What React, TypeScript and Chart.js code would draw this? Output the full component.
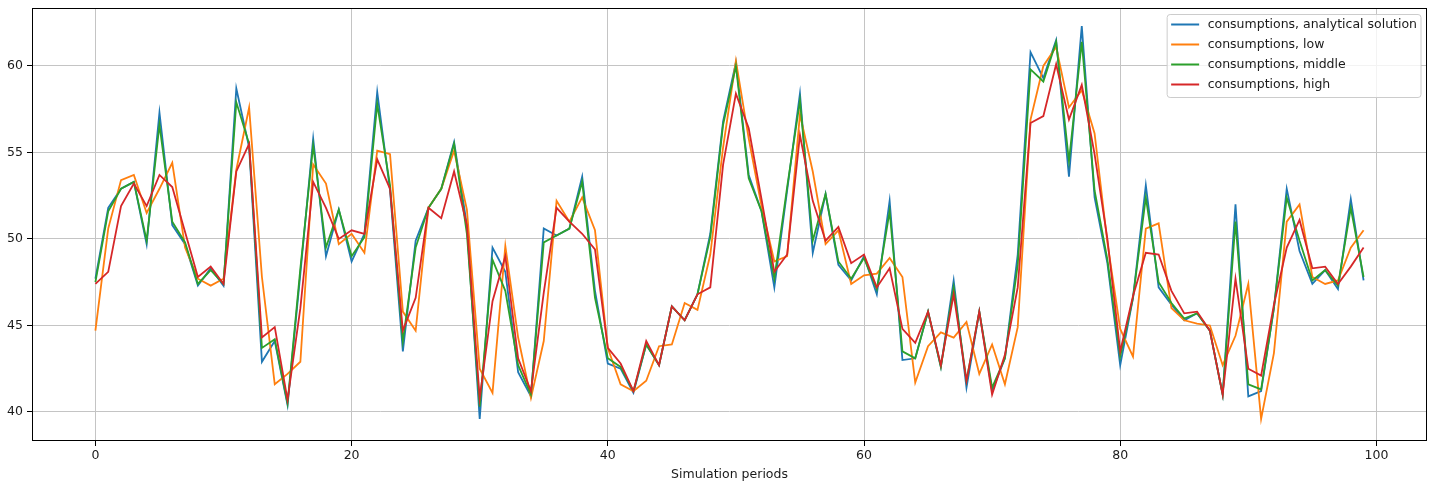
import React, { useEffect, useRef } from 'react';
import { Chart, registerables } from 'chart.js';

Chart.register(...registerables);

const periods: number[] = Array.from({ length: 100 }, (_, i) => i);

const analytical = [
  47.7, 51.8, 52.9, 53.3, 49.7, 57.3, 50.8, 49.7, 47.3, 48.3,
  47.3, 58.7, 55.3, 42.9, 44.1, 40.4, 48.0, 55.8, 49.0, 51.7,
  48.7, 50.3, 58.5, 52.8, 43.5, 49.9, 51.8, 52.9, 55.6, 50.8,
  39.6, 49.5, 48.1, 42.3, 40.9, 50.6, 50.2, 50.6, 53.6, 47.0,
  42.8, 42.5, 41.1, 43.9, 42.7, 46.1, 45.3, 46.8, 50.3, 56.8,
  60.2, 53.7, 51.6, 47.2, 52.8, 58.4, 49.2, 52.6, 48.5, 47.6,
  49.0, 46.8, 52.2, 43.0, 43.1, 45.8, 42.6, 47.6, 41.4, 45.8,
  41.2, 43.1, 49.1, 60.8, 59.3, 61.5, 53.6, 62.3, 52.4, 48.6,
  42.7, 46.6, 53.1, 47.2, 46.2, 45.3, 45.7, 44.7, 41.0, 52.0,
  40.9, 41.2, 46.0, 52.9, 49.3, 47.4, 48.2, 47.1, 52.3, 47.6,
];

const low = [
  44.7, 50.6, 53.4, 53.7, 51.5, 52.9, 54.4, 49.5, 47.7, 47.3,
  47.7, 54.0, 57.6, 47.8, 41.6, 42.2, 42.9, 54.3, 53.2, 49.7,
  50.3, 49.2, 55.1, 54.9, 45.8, 44.7, 51.8, 52.9, 55.1, 51.7,
  42.5, 41.1, 49.6, 44.3, 40.8, 44.1, 52.2, 51.0, 52.4, 50.5,
  43.7, 41.6, 41.2, 41.8, 43.8, 43.9, 46.3, 45.9, 49.1, 55.3,
  60.3, 55.8, 51.9, 48.7, 49.0, 57.2, 53.9, 49.7, 50.5, 47.4,
  47.9, 48.0, 48.9, 47.8, 41.7, 43.8, 44.6, 44.3, 45.2, 42.2,
  43.9, 41.6, 44.9, 56.9, 60.0, 61.1, 57.6, 58.6, 56.1, 49.8,
  44.8, 43.2, 50.6, 50.9, 46.0, 45.3, 45.1, 45.0, 42.7, 44.4,
  47.4, 39.6, 43.4, 51.0, 52.0, 47.8, 47.4, 47.6, 49.5, 50.5,
];

const middle = [
  47.5, 51.6, 52.9, 53.3, 49.9, 56.6, 51.0, 49.8, 47.4, 48.2,
  47.4, 57.9, 55.5, 43.7, 44.2, 40.5, 48.3, 55.4, 49.5, 51.7,
  49.0, 50.1, 57.8, 53.1, 44.1, 49.5, 51.8, 52.9, 55.5, 50.3,
  40.3, 48.8, 47.0, 42.7, 41.0, 49.8, 50.2, 50.6, 53.3, 46.6,
  43.1, 42.6, 41.2, 43.9, 42.7, 46.1, 45.3, 46.8, 50.1, 56.6,
  60.0, 53.5, 51.6, 47.7, 53.0, 58.0, 49.9, 52.6, 48.7, 47.7,
  48.9, 47.1, 51.6, 43.5, 43.1, 45.8, 42.6, 47.2, 41.8, 45.8,
  41.4, 43.1, 48.5, 59.8, 59.1, 61.4, 54.5, 61.4, 52.8, 48.8,
  43.2, 46.6, 52.4, 47.5, 46.3, 45.4, 45.7, 44.7, 41.0, 51.0,
  41.6, 41.3, 46.0, 52.4, 49.9, 47.6, 48.2, 47.3, 51.8, 47.8,
];

const high = [
  47.4, 48.1, 51.9, 53.2, 51.9, 53.7, 53.0, 50.4, 47.8, 48.4,
  47.4, 53.9, 55.5, 44.3, 44.9, 40.7, 46.0, 53.3, 51.8, 50.0,
  50.5, 50.3, 54.6, 52.9, 44.7, 46.6, 51.8, 51.2, 53.9, 50.8,
  40.8, 46.4, 49.0, 43.1, 41.2, 46.9, 51.8, 51.0, 50.3, 49.4,
  43.7, 42.8, 41.2, 44.1, 42.7, 46.1, 45.3, 46.8, 47.2, 54.3,
  58.4, 56.4, 52.3, 48.1, 49.1, 56.0, 52.2, 49.9, 50.7, 48.6,
  49.1, 47.2, 48.3, 44.8, 44.0, 45.8, 42.7, 46.8, 41.8, 45.8,
  41.0, 43.3, 47.2, 56.7, 57.1, 60.1, 56.9, 58.9, 54.9, 50.0,
  43.5, 46.7, 49.2, 49.1, 47.0, 45.7, 45.8, 44.7, 41.0, 47.7,
  42.5, 42.1, 46.2, 49.5, 51.1, 48.3, 48.4, 47.4, 48.4, 49.5,
];

const seriesLabels = [
  'consumptions, analytical solution',
  'consumptions, low',
  'consumptions, middle',
  'consumptions, high',
];
const seriesColors = ['#1f77b4', '#ff7f0e', '#2ca02c', '#d62728'];
const xTicks = [0, 20, 40, 60, 80, 100];
const yTicks = [40, 45, 50, 55, 60];
const xTitle = 'Simulation periods';

const FONT = "'DejaVu Sans', sans-serif";
const FONT_SIZE = 12.5;

export default function App() {
  const ref = useRef<HTMLCanvasElement>(null);

  useEffect(() => {
    document.body.style.margin = '0';
    const canvas = ref.current;
    if (!canvas) return;

    const framePlugin = {
      id: 'frameAndLegend',
      afterDatasetsDraw(chart: any) {
        const { ctx, chartArea } = chart;
        ctx.save();
        ctx.strokeStyle = '#000';
        ctx.lineWidth = 1;
        const l = Math.round(chartArea.left) + 0.5;
        const t = Math.round(chartArea.top) + 0.5;
        const r = Math.round(chartArea.right) - 0.5;
        const b = Math.round(chartArea.bottom) - 0.5;
        ctx.strokeRect(l, t, r - l, b - t);

        // legend
        ctx.font = `${FONT_SIZE}px ${FONT}`;
        const datasets = chart.data.datasets;
        let maxW = 0;
        datasets.forEach((d: any) => {
          maxW = Math.max(maxW, ctx.measureText(d.label).width);
        });
        const padL = 4, handle = 28, gap = 8.5, padR = 4, rowH = 20;
        const boxW = padL + handle + gap + maxW + padR;
        const boxH = rowH * datasets.length + 3;
        const bx = chartArea.right - 6 - boxW;
        const by = chartArea.top + 6.5;
        const rad = 3;
        ctx.beginPath();
        ctx.moveTo(bx + rad, by);
        ctx.lineTo(bx + boxW - rad, by);
        ctx.arcTo(bx + boxW, by, bx + boxW, by + rad, rad);
        ctx.lineTo(bx + boxW, by + boxH - rad);
        ctx.arcTo(bx + boxW, by + boxH, bx + boxW - rad, by + boxH, rad);
        ctx.lineTo(bx + rad, by + boxH);
        ctx.arcTo(bx, by + boxH, bx, by + boxH - rad, rad);
        ctx.lineTo(bx, by + rad);
        ctx.arcTo(bx, by, bx + rad, by, rad);
        ctx.closePath();
        ctx.fillStyle = 'rgba(255,255,255,0.8)';
        ctx.fill();
        ctx.strokeStyle = '#cccccc';
        ctx.stroke();

        datasets.forEach((d: any, i: number) => {
          const cy = by + 10 + rowH * i;
          ctx.strokeStyle = d.borderColor;
          ctx.lineWidth = 2;
          ctx.beginPath();
          ctx.moveTo(bx + padL, cy);
          ctx.lineTo(bx + padL + handle, cy);
          ctx.stroke();
          ctx.fillStyle = '#1a1a1a';
          ctx.textBaseline = 'middle';
          ctx.textAlign = 'left';
          ctx.fillText(d.label, bx + padL + handle + gap, cy + 0.5);
        });
        ctx.restore();
      },
    };

    const seriesData = [analytical, low, middle, high];

    const chart = new Chart(canvas, {
      type: 'line',
      data: {
        datasets: seriesData.map((vals, k) => ({
          label: seriesLabels[k],
          data: periods.map((p, i) => ({ x: p, y: vals[i] })),
          borderColor: seriesColors[k],
          backgroundColor: seriesColors[k],
          borderWidth: 1.8,
          pointRadius: 0,
          tension: 0,
          fill: false,
          order: 3 - k,
        })),
      },
      options: {
        animation: false,
        responsive: false,
        layout: { padding: { top: 8, right: 11, left: 0, bottom: 0 } },
        plugins: {
          legend: { display: false },
          tooltip: { enabled: false },
        },
        scales: {
          x: {
            type: 'linear',
            min: -4.95,
            max: 103.95,
            afterBuildTicks: (scale: any) => {
              scale.ticks = xTicks.map((v) => ({ value: v }));
            },
            afterFit: (scale: any) => {
              scale.height = 42;
              scale.paddingLeft = 0;
              scale.paddingRight = 0;
            },
            ticks: {
              callback: (v: any) => String(v),
              font: { family: FONT, size: FONT_SIZE },
              color: '#1a1a1a',
              padding: 2,
              maxRotation: 0,
              autoSkip: false,
            },
            grid: {
              color: '#c4c4c4',
              lineWidth: 1,
              tickColor: '#000',
              tickLength: 5,
            },
            border: { display: false },
            title: {
              display: true,
              text: xTitle,
              font: { family: FONT, size: FONT_SIZE },
              color: '#1a1a1a',
              padding: { top: 0, bottom: 1 },
            },
          },
          y: {
            type: 'linear',
            min: 38.32,
            max: 63.35,
            afterBuildTicks: (scale: any) => {
              scale.ticks = yTicks.map((v) => ({ value: v }));
            },
            afterFit: (scale: any) => {
              scale.width = 32;
              scale.paddingTop = 0;
              scale.paddingBottom = 0;
            },
            ticks: {
              callback: (v: any) => String(v),
              font: { family: FONT, size: FONT_SIZE },
              color: '#1a1a1a',
              padding: 4,
              autoSkip: false,
            },
            grid: {
              color: '#c4c4c4',
              lineWidth: 1,
              tickColor: '#000',
              tickLength: 5,
            },
            border: { display: false },
          },
        },
      },
      plugins: [framePlugin],
    } as any);

    return () => chart.destroy();
  }, []);

  return (
    <div style={{ width: 1438, height: 483, position: 'relative', background: '#fff' }}>
      <canvas ref={ref} width={1438} height={483} />
    </div>
  );
}
